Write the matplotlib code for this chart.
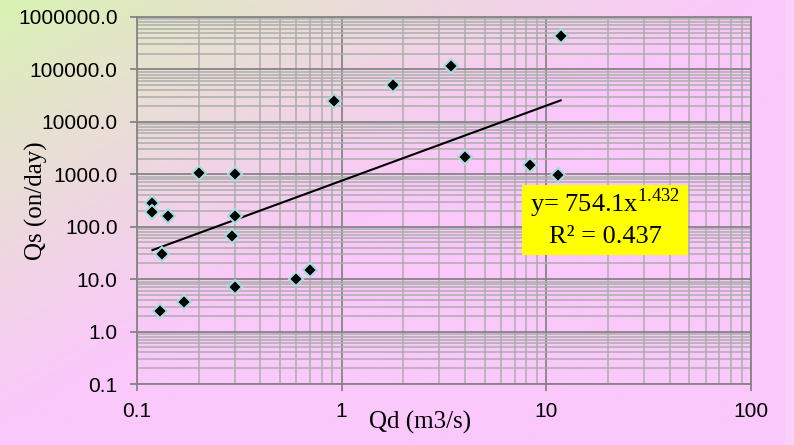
import numpy as np
import matplotlib
matplotlib.use("Agg")
import matplotlib.pyplot as plt
from matplotlib.patches import Rectangle
from matplotlib.ticker import FixedLocator, FixedFormatter, LogLocator, NullFormatter

# data
qd = [0.119, 0.119, 0.141, 0.132, 0.130, 0.169, 0.200, 0.300, 0.300, 0.290,
      0.300, 0.596, 0.700, 0.920, 1.79, 3.42, 4.00, 8.34, 11.4, 11.75]
qs = [287, 194, 160, 30.6, 2.47, 3.6, 1059, 1000, 160, 66.5,
      7.0, 10.1, 15.0, 25300, 51100, 118000, 2110, 1524, 970, 440000]

# power trend line shown on chart
coef_a = 754.1
coef_b = 1.432
r2 = 0.437

xticks = [0.1, 1, 10, 100]
xticklabels = ["0.1", "1", "10", "100"]
yticks = [0.1, 1, 10, 100, 1000, 10000, 100000, 1000000]
yticklabels = ["%.1f" % v for v in yticks]

plt.rcParams['mathtext.fontset'] = 'custom'
plt.rcParams['mathtext.rm'] = 'Liberation Serif'

fig = plt.figure(figsize=(7.94, 4.45), dpi=100)

# background gradient (green top-left -> pink)
bg = fig.add_axes([0, 0, 1, 1], zorder=-10)
W, H = 400, 224
gx, gy = np.meshgrid(np.linspace(0, 1, W), np.linspace(0, 1, H))
t = np.clip((gx + gy) * 1.05, 0, 1) ** 0.8
c0 = np.array([215, 245, 175]) / 255.0
c1 = np.array([250, 200, 250]) / 255.0
img = c0[None, None, :] * (1 - t[..., None]) + c1[None, None, :] * t[..., None]
bg.imshow(img, aspect='auto', extent=[0, 1, 1, 0])
bg.set_xlim(0, 1)
bg.set_ylim(1, 0)
bg.axis('off')
fig.patches.append(Rectangle((785 / 794, 0), 9 / 794, 1, transform=fig.transFigure,
                             facecolor='#fcd0fc', edgecolor='none', zorder=-5))

ax = fig.add_axes([137 / 794, 61 / 445, 614 / 794, 367 / 445])
ax.set_facecolor('none')
ax.set_xscale('log')
ax.set_yscale('log')
ax.set_xlim(0.1, 100)
ax.set_ylim(0.1, 1000000)

ax.xaxis.set_major_locator(FixedLocator(xticks))
ax.xaxis.set_major_formatter(FixedFormatter(xticklabels))
ax.yaxis.set_major_locator(FixedLocator(yticks))
ax.yaxis.set_major_formatter(FixedFormatter(yticklabels))
ax.xaxis.set_minor_locator(LogLocator(base=10, subs=np.arange(2, 10)))
ax.yaxis.set_minor_locator(LogLocator(base=10, subs=np.arange(2, 10)))
ax.xaxis.set_minor_formatter(NullFormatter())
ax.yaxis.set_minor_formatter(NullFormatter())

ax.grid(which='minor', color='#adadad', lw=1.1)
ax.grid(which='major', color='#858585', lw=1.3)
ax.set_axisbelow(True)
for s in ax.spines.values():
    s.set_color('#858585')
    s.set_linewidth(1.3)
ax.tick_params(which='major', length=5, color='#858585', width=1.3,
               labelsize=15)
ax.tick_params(which='minor', length=0)
ax.tick_params(axis='y', pad=9)
ax.tick_params(axis='x', pad=8)
for lab in ax.get_xticklabels() + ax.get_yticklabels():
    lab.set_family('Liberation Sans')

# trend line
xf = np.linspace(min(qd), max(qd), 200)
ax.plot(xf, coef_a * xf ** coef_b, color='black', lw=1.5, zorder=3)

ax.plot(qd, qs, linestyle='none', marker='D', ms=7.5, mfc='black',
        mec='#a8dcdc', mew=1.5, zorder=4)

ax.set_xlabel("Qd (m3/s)", family='Liberation Serif', fontsize=18, va='center')
ax.set_ylabel("Qs (on/day)", family='Liberation Serif', fontsize=18, va='center')
ax.xaxis.set_label_coords(0.461, -0.105)
ax.yaxis.set_label_coords(-0.163, 0.50)

# equation box
fig.patches.append(Rectangle((522 / 794, 1 - 255 / 445), 166 / 794, 70 / 445,
                             transform=fig.transFigure, facecolor='#ffff00',
                             edgecolor='none', zorder=5))
fig.text(605 / 794, 1 - 203 / 445, r"y= 754.1x$^{\mathrm{1.432}}$",
         family='Liberation Serif', fontsize=19, ha='center', va='center', zorder=6)
fig.text(605 / 794, 1 - 237 / 445, "R² = %.3f" % r2,
         family='Liberation Serif', fontsize=19, ha='center', va='center', zorder=6)

fig.savefig("out.png", dpi=100)
